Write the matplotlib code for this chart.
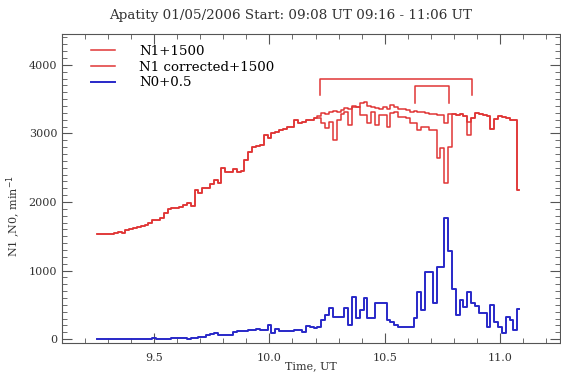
import numpy as np
import matplotlib
matplotlib.use('Agg')
import matplotlib.pyplot as plt
from matplotlib.ticker import MultipleLocator

# one-minute samples from 9:15 UT, hours
t_start = 9.25
n_min = 111

# N1 neutron monitor counts (already +1500), before and after correction
n1_common = [1530, 1530, 1530, 1535, 1540, 1550, 1565, 1550, 1590, 1600,
             1615, 1635, 1650, 1665, 1700, 1740, 1745, 1770, 1840, 1900,
             1910, 1920, 1930, 1960, 1985, 1940, 2175, 2130, 2200, 2210,
             2260, 2320, 2280, 2500, 2440, 2440, 2480, 2440, 2450, 2610,
             2730, 2800, 2810, 2830, 2980, 2930, 3005, 3020, 3050, 3060,
             3095, 3100, 3200, 3150, 3170, 3190, 3200, 3220]
n1_corr_tail = [3260, 3300, 3290, 3320, 3330, 3320, 3340, 3370, 3360, 3400,
                3380, 3440, 3460, 3400, 3390, 3370, 3360, 3390, 3350, 3410,
                3380, 3360, 3350, 3340, 3320, 3330, 3310, 3310, 3300, 3290,
                3280, 3270, 3270, 3150, 3280, 3290, 3270, 3290, 3260, 3170,
                3230, 3300, 3290, 3270, 3260, 3070, 3210, 3250, 3240, 3220,
                3200, 3190, 2180]
n1_raw_tail = [3230, 3150, 3080, 3170, 2910, 3200, 3280, 3310, 3130, 3390,
               3380, 3270, 3270, 3150, 3310, 3120, 3270, 3270, 3090, 3300,
               3320, 3240, 3240, 3230, 3150, 3150, 3050, 3100, 3090, 3050,
               3050, 2640, 2790, 2280, 2800, 3290, 3270, 3290, 3260, 2980,
               3230, 3300, 3290, 3270, 3260, 3070, 3210, 3250, 3240, 3220,
               3200, 3190, 2180]

# N0 counts (+0.5)
n0 = [0, 0, 0, 0, 0, 0, 0, 0, 0, 0,
      0, 0, 0, 0, 0, 15, 5, 5, 5, 5,
      15, 15, 15, 15, 10, 19, 19, 25, 34, 68,
      80, 92, 58, 68, 68, 68, 107, 115, 122, 122,
      131, 131, 146, 140, 131, 204, 97, 146, 122, 122,
      122, 122, 131, 131, 107, 195, 185, 170, 175, 277,
      350, 448, 326, 326, 326, 448, 204, 618, 302, 423,
      594, 302, 302, 530, 530, 530, 277, 253, 204, 180,
      180, 180, 185, 302, 691, 423, 983, 983, 521, 1056,
      1056, 1762, 1289, 725, 350, 569, 472, 691, 521, 490,
      375, 375, 180, 496, 253, 180, 83, 326, 277, 131,
      433]

# GLE interval markers: start, end, top, leg bottom
bracket_t0 = [10.22, 10.63]
bracket_t1 = [10.88, 10.78]
bracket_top = [3800, 3690]
bracket_low = [3560, 3450]

n1_corr = n1_common + n1_corr_tail
n1_raw = n1_common + n1_raw_tail
t = t_start + np.arange(n_min) / 60.0

plt.rcParams['font.family'] = 'DejaVu Serif'
plt.rcParams['font.size'] = 8

red = '#e03535'
blue = '#2828c8'
ink = '#333333'

fig = plt.figure(figsize=(5.61, 3.74), dpi=100)
ax = fig.add_axes([0.1105, 0.083, 0.8875, 0.826])

l1, = ax.plot(t, n1_raw, color=red, lw=1.1, drawstyle='steps-mid', label='N1+1500')
l2, = ax.plot(t, n1_corr, color=red, lw=1.1, drawstyle='steps-mid',
              label='N1 corrected+1500')
l3, = ax.plot(t, n0, color=blue, lw=1.4, drawstyle='steps-mid', label='N0+0.5')

for a, b, top, low in zip(bracket_t0, bracket_t1, bracket_top, bracket_low):
    ax.plot([a, a, b, b], [low, top, top, low], color=red, lw=1.1)

ax.set_xlim(9.1, 11.26)
ax.set_ylim(-55, 4450)
ax.xaxis.set_major_locator(MultipleLocator(0.5))
ax.xaxis.set_minor_locator(MultipleLocator(0.1))
ax.yaxis.set_major_locator(MultipleLocator(1000))
ax.yaxis.set_minor_locator(MultipleLocator(100))
ax.tick_params(which='both', direction='in', top=True, right=True,
               color='#555555', labelcolor=ink)
ax.tick_params(which='major', length=7, width=0.8)
ax.tick_params(which='minor', length=3.5, width=0.6)
ax.tick_params(axis='x', pad=7)
for s in ax.spines.values():
    s.set_color('#555555')

ax.set_xticks([9.5, 10.0, 10.5, 11.0])
ax.set_xticklabels(['9.5', '10.0', '10.5', '11.0'])
ax.set_xlabel('Time, UT', color=ink, labelpad=-1)
ax.set_ylabel('N1 ,N0, min$^{-1}$', color=ink)
ax.yaxis.set_label_coords(-0.078, 0.41)

ax.legend(handles=[l1, l2, l3], loc='upper left', bbox_to_anchor=(0.04, 0.995),
          frameon=False, fontsize=9.6, handlelength=1.8, handletextpad=1.8,
          labelspacing=0.2, borderpad=0.2)

fig.text(291 / 561, 1 - 15 / 374, 'Apatity 01/05/2006 Start: 09:08 UT 09:16 - 11:06 UT',
         ha='center', va='center', fontsize=9.7, color=ink)

fig.savefig('out.png', dpi=100)
plt.close(fig)
